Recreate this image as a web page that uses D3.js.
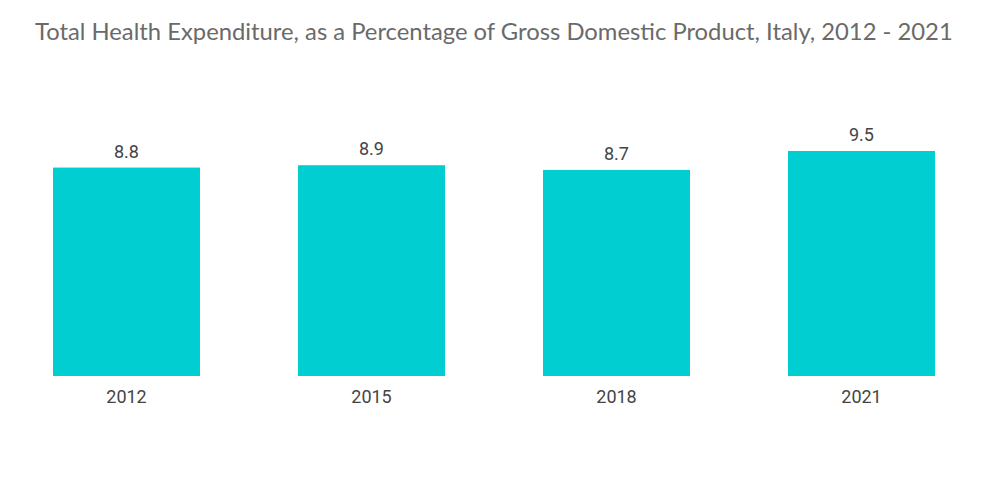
<!DOCTYPE html>
<html>
<head>
<meta charset="utf-8">
<script src="https://cdn.jsdelivr.net/npm/d3@7"></script>
<style>
  body { margin: 0; background: #fff; }
</style>
</head>
<body>
<div class="chart"></div>
<script>
// --- data ---
const years = ["2012", "2015", "2018", "2021"];
const shares = [8.8, 8.9, 8.7, 9.5];
const title = "Total Health Expenditure, as a Percentage of Gross Domestic Product, Italy, 2012 - 2021";

const W = 1000, H = 504;
const baseY = 376;

const svg = d3.select(".chart").append("svg")
  .attr("width", W)
  .attr("height", H);

// title
svg.append("text")
  .attr("x", 35)
  .attr("y", 40)
  .text(title)
  .style("font-family", "Lato, sans-serif")
  .style("font-size", "23.8px")
  .style("fill", "#6a6a6a");

// scales
const x = d3.scaleBand()
  .domain(years)
  .range([4, 984])
  .paddingInner(0.4)
  .paddingOuter(0.2);

const y = d3.scaleLinear()
  .domain([0, 9.5])
  .range([baseY, 151]);

const data = years.map((yr, i) => ({ year: yr, value: shares[i] }));

// bars
svg.selectAll("rect.bar")
  .data(data)
  .join("rect")
  .attr("class", "bar")
  .attr("x", d => x(d.year))
  .attr("y", d => y(d.value))
  .attr("width", x.bandwidth())
  .attr("height", d => baseY - y(d.value))
  .attr("fill", "#00CED1");

// value labels
svg.selectAll("text.val")
  .data(data)
  .join("text")
  .attr("class", "val")
  .attr("x", d => x(d.year) + x.bandwidth() / 2)
  .attr("y", d => y(d.value) - 10)
  .attr("text-anchor", "middle")
  .text(d => d.value.toFixed(1))
  .style("font-family", "Roboto, sans-serif")
  .style("font-size", "18px")
  .style("fill", "#444");

// x axis (no line, labels only)
const xAxis = svg.append("g")
  .attr("transform", `translate(0, ${baseY})`)
  .call(d3.axisBottom(x).tickSize(0).tickPadding(14));
xAxis.select(".domain").remove();
xAxis.selectAll("text")
  .style("font-family", "Roboto, sans-serif")
  .style("font-size", "18px")
  .style("fill", "#444");
</script>
</body>
</html>
